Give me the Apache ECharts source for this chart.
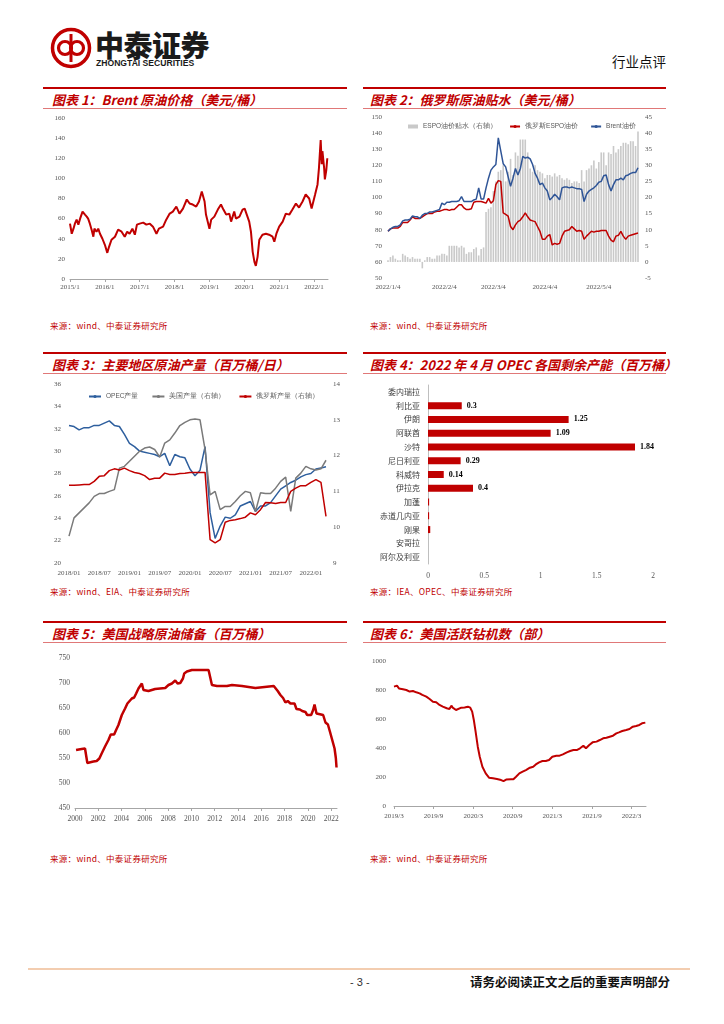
<!DOCTYPE html>
<html><head><meta charset="utf-8">
<script src="https://cdn.jsdelivr.net/npm/echarts/dist/echarts.min.js"></script>
<style>
body{margin:0;width:724px;height:1024px;background:#fff;position:relative;overflow:hidden;font-family:"Noto Sans CJK SC",sans-serif;}
.topline{position:absolute;height:2px;background:#c00000;}
.subline{position:absolute;height:1px;background:#e07878;}
.title{position:absolute;color:#c00000;font-weight:bold;font-style:italic;font-size:13px;line-height:16px;white-space:nowrap;}
.src{position:absolute;color:#c00000;font-size:8.5px;line-height:10px;white-space:nowrap;letter-spacing:0.3px;}
.chart{position:absolute;}
</style></head>
<body>
<!-- header -->
<svg style="position:absolute;left:50px;top:27px" width="42" height="42" viewBox="0 0 42 42">
  <circle cx="21" cy="21" r="18.5" fill="#fff" stroke="#c00000" stroke-width="3.5"/>
  <circle cx="15" cy="21" r="6.5" fill="none" stroke="#c00000" stroke-width="3.2"/>
  <circle cx="27" cy="21" r="6.5" fill="none" stroke="#c00000" stroke-width="3.2"/>
  <line x1="21" y1="7" x2="21" y2="35" stroke="#c00000" stroke-width="3"/>
</svg>
<div style="position:absolute;left:95px;top:28px;font-size:29px;line-height:32px;font-weight:900;color:#1a1a1a;letter-spacing:-0.5px;">中泰证券</div>
<div style="position:absolute;left:96px;top:58px;font-size:8.6px;line-height:10px;font-weight:bold;color:#1a1a1a;font-family:'Liberation Sans',Arial,sans-serif;">ZHONGTAI SECURITIES</div>
<div style="position:absolute;left:612px;top:53px;font-size:13.5px;line-height:16px;color:#111;">行业点评</div>

<!-- panel frames -->
<div class="topline" style="left:43px;top:87px;width:304px"></div>
<div class="topline" style="left:363px;top:87px;width:303px"></div>
<div class="title" style="left:52px;top:92px">图表 1：Brent 原油价格（美元/桶）</div>
<div class="title" style="left:370px;top:92px">图表 2：俄罗斯原油贴水（美元/桶）</div>
<div class="subline" style="left:43px;top:108px;width:304px"></div>
<div class="subline" style="left:363px;top:108px;width:303px"></div>
<div class="src" style="left:50px;top:320px">来源：wind、中泰证券研究所</div>
<div class="src" style="left:370px;top:320px">来源：wind、中泰证券研究所</div>

<div class="topline" style="left:43px;top:352px;width:304px"></div>
<div class="topline" style="left:363px;top:352px;width:303px"></div>
<div class="title" style="left:52px;top:357px">图表 3：主要地区原油产量（百万桶/日）</div>
<div class="title" style="left:370px;top:357px">图表 4：2022 年 4 月 OPEC 各国剩余产能（百万桶）</div>
<div class="subline" style="left:43px;top:373px;width:304px"></div>
<div class="subline" style="left:363px;top:373px;width:303px"></div>
<div class="src" style="left:50px;top:586px">来源：wind、EIA、中泰证券研究所</div>
<div class="src" style="left:370px;top:586px">来源：IEA、OPEC、中泰证券研究所</div>

<div class="topline" style="left:43px;top:621px;width:304px"></div>
<div class="topline" style="left:363px;top:621px;width:303px"></div>
<div class="title" style="left:52px;top:626px">图表 5：美国战略原油储备（百万桶）</div>
<div class="title" style="left:370px;top:626px">图表 6：美国活跃钻机数（部）</div>
<div class="subline" style="left:43px;top:642px;width:304px"></div>
<div class="subline" style="left:363px;top:642px;width:303px"></div>
<div class="src" style="left:50px;top:853px">来源：wind、中泰证券研究所</div>
<div class="src" style="left:370px;top:853px">来源：wind、中泰证券研究所</div>

<!-- charts -->
<div id="c1" class="chart" style="left:43px;top:110px;width:304px;height:190px"></div>
<div id="c2" class="chart" style="left:363px;top:110px;width:303px;height:190px"></div>
<div id="c3" class="chart" style="left:43px;top:375px;width:304px;height:208px"></div>
<div id="c4" class="chart" style="left:363px;top:375px;width:303px;height:208px"></div>
<div id="c5" class="chart" style="left:43px;top:645px;width:304px;height:200px"></div>
<div id="c6" class="chart" style="left:363px;top:645px;width:303px;height:200px"></div>

<!-- footer -->
<div style="position:absolute;left:28px;top:968px;width:662px;height:2px;background:#f3cdb0;"></div>
<div style="position:absolute;left:350px;top:975px;font-size:11px;line-height:14px;color:#333;font-family:'Liberation Sans',Arial,sans-serif;">- 3 -</div>
<div style="position:absolute;left:470px;top:974px;font-size:12.5px;line-height:16px;font-weight:bold;color:#111;">请务必阅读正文之后的重要声明部分</div>

<script>
// ---------- Chart 1: Brent ----------
const brentYears = [2015.00,2015.05,2015.10,2015.14,2015.19,2015.24,2015.29,2015.36,2015.43,2015.48,
2015.52,2015.57,2015.62,2015.67,2015.70,2015.76,2015.81,2015.86,2015.93,2016.00,
2016.07,2016.12,2016.19,2016.29,2016.38,2016.48,2016.57,2016.64,2016.71,2016.79,
2016.86,2016.92,2017.00,2017.10,2017.19,2017.29,2017.38,2017.48,2017.55,2017.67,
2017.76,2017.86,2017.95,2018.05,2018.14,2018.24,2018.35,2018.43,2018.52,2018.62,
2018.70,2018.78,2018.86,2018.90,2019.00,2019.05,2019.14,2019.24,2019.33,2019.40,
2019.48,2019.57,2019.62,2019.71,2019.76,2019.86,2019.95,2020.01,2020.07,2020.14,
2020.19,2020.24,2020.29,2020.33,2020.38,2020.43,2020.52,2020.62,2020.71,2020.81,
2020.86,2020.92,2021.00,2021.10,2021.19,2021.29,2021.38,2021.48,2021.57,2021.67,
2021.76,2021.86,2021.93,2022.03,2022.10,2022.14,2022.19,2022.22,2022.24,2022.29,
2022.31,2022.35,2022.38];
const brentPrices = [55,45,50,55,59,54,60,67,64,62,
60,55,49,42,50,47,50,45,40,34,
26,32,39,42,49,47,42,47,45,50,
44,54,55,56,54,55,52,45,50,52,
59,65,67,72,65,70,79,75,74,72,
77,87,77,64,50,59,62,69,74,69,
64,65,57,67,60,62,69,70,64,57,
47,27,17,13,22,39,44,45,44,42,
37,45,52,57,65,64,69,75,71,77,
84,80,70,84,94,110,138,114,127,110,
99,108,120];

// ---------- Chart 2: ESPO ----------
const espoLabelDates = ['2022/1/4','2022/2/4','2022/3/4','2022/4/4','2022/5/4'];
const espoDates = (function(){const out=[];const d=new Date(Date.UTC(2022,0,4));const end=Date.UTC(2022,4,26);
  while(d.getTime()<=end){const w=d.getUTCDay();if(w!==0&&w!==6)out.push(d.getUTCFullYear()+'/'+(d.getUTCMonth()+1)+'/'+d.getUTCDate());d.setUTCDate(d.getUTCDate()+1);}return out;})();
const espoBrent = [79,80.5,81.5,82,82,83,85.5,86,86,86.5,
88.5,88,88,87,89,90,90,91,91,91.5,
92,92.5,96.5,95.5,97,97,97.5,97.5,97.5,98,
100.5,97.5,97.5,97.5,97.5,98.5,99,106,99,99,
106,112,117,119,120.5,137,129,121,119,113,
107,112,118,114,118,125.5,124.5,125,124,120.5,
115,112,108,109,106,104,98.5,100,102,100.5,
98.5,106,106.5,106.5,106,106.5,106,105.5,105.5,105,
97.5,102,104,105,106,107.5,109.5,110,113.5,114,
108,104,108,111,111,112,111,113.5,114,115,
115.5,115.5,118.5];
const espoRussia = [79,80.5,81,81,81,82,84.5,84.5,84.5,86,
88,87,87,87,88,89,90,90,90,91,
91.5,91.5,92,92.5,92.5,92,92.5,92.5,94,95.5,
95.5,93.5,92.5,92.5,93,97,97.5,97.5,97.5,97,
96.5,99.5,96.5,98,108,110.5,110,90.5,89.5,88.5,
82,80,83,85,86,88,90.5,88,86,85.5,
85,82,79,74,74,76,77,70.5,71.5,71,
71.5,76,79,79.5,80,82,80.5,79,79.5,79,
74,76,77.5,79,78.5,79,79,79.5,79.5,79.5,
76,73.5,72.5,76,76.5,79,76,74,76,76.5,
77,77.5,78];
const espoDiscount = [0.5,1.5,2,1,0.5,0.5,2.5,2,1.5,1,
1.5,1,1,1,-2,0.5,1.5,1.5,1,1,
2,2,2.5,2.5,2,5,5,5,5,4.5,
5,4.5,2.5,3,3,4,4.5,2,4,4.5,
15.5,16.5,17,22,25,28,28.5,30,25,28,
32,27,34,33,38,38,38,34,29,28,
30,28.5,28,27.5,26,27,27,26.5,27.5,26.5,
27,26,25.5,26,25.5,24.5,25,25,24.5,28.5,
25,28.5,29,30,31.5,29,31,34,34,30,
34,33.5,36,34,35,36,37,37,36.5,37.5,
37.5,36,40.5];

// ---------- Chart 3: production ----------
const prodMonths = (function(){const o=[];for(let y=2018;y<=2022;y++){for(let m=1;m<=12;m++){if(y===2022&&m>4)break;o.push(y+'/'+(m<10?'0'+m:m));}}return o;})();
const opecProd = [32.3,32.2,31.9,32.1,32.1,32.3,32.3,32.5,32.7,32.3,
32.2,31.5,30.7,30.4,30.0,29.9,29.8,29.7,29.5,29.8,
28.7,29.7,29.5,29.4,28.4,27.8,28.3,30.4,24.5,22.2,
23.3,24.1,24.0,24.3,25.1,25.3,25.5,24.6,25.1,25.1,
25.4,26.0,26.6,26.9,27.2,27.4,27.7,27.9,28.0,28.4,
28.5,28.6];
const usProd = [9.75,10.26,10.4,10.54,10.68,10.86,10.94,10.94,11.0,11.05,
11.65,11.7,11.84,11.98,12.12,12.21,12.24,12.17,11.96,12.35,
12.44,12.63,12.84,12.93,13.0,13.02,13.0,12.17,10.9,11.0,
10.49,10.58,10.58,10.72,10.88,11.0,10.96,10.44,10.96,10.94,
10.94,11.09,11.28,11.4,10.44,11.37,11.51,11.7,11.63,11.6,
11.63,11.87];
const ruProd = [11.17,11.17,11.18,11.19,11.19,11.28,11.42,11.44,11.58,11.63,
11.6,11.65,11.58,11.53,11.5,11.44,11.33,11.37,11.37,11.51,
11.47,11.47,11.5,11.51,11.53,11.53,11.53,11.53,9.65,9.56,
9.65,10.14,10.19,10.21,10.24,10.28,10.4,10.35,10.49,10.69,
10.68,10.66,10.69,10.69,11.0,11.09,11.16,11.16,11.25,11.33,
11.25,10.3];

// ---------- Chart 4: OPEC spare capacity ----------
const opecCountries = ['委内瑞拉','利比亚','伊朗','阿联酋','沙特','尼日利亚','科威特','伊拉克','加蓬','赤道几内亚','刚果','安哥拉','阿尔及利亚'];
const spareCapacity = [0,0.3,1.25,1.09,1.84,0.29,0.14,0.4,0.01,0.01,0.02,0,0];

// ---------- Chart 5: SPR ----------
const sprYears = [2000.09,2000.20,2000.57,2000.86,2000.95,2001.06,2001.23,2001.58,2001.86,2002.09,
2002.29,2002.58,2002.87,2003.07,2003.36,2003.53,2003.73,2004.02,2004.30,2004.50,
2004.88,2005.08,2005.25,2005.45,2005.74,2005.88,2006.02,2006.31,2006.45,2006.88,
2007.31,2007.75,2008.03,2008.32,2008.61,2008.81,2009.04,2009.27,2009.38,2009.61,
2010.04,2010.76,2011.47,2011.62,2011.76,2012.19,2013.05,2013.48,2014.34,2014.49,
2015.49,2015.63,2017.07,2017.21,2017.41,2017.64,2017.87,2018.07,2018.27,2018.50,
2018.85,2019.02,2019.31,2019.51,2019.79,2019.94,2020.28,2020.45,2020.57,2020.74,
2020.94,2021.31,2021.51,2021.72,2021.89,2022.09,2022.29,2022.40,2022.46];
const sprLevels = [566,569,568,569,566,540,543,543,544,549,
559,573,586,597,597,606,616,636,649,659,
669,671,679,689,699,686,683,684,688,688,
689,690,696,699,705,699,700,709,719,723,
726,726,726,723,696,694,694,696,694,690,
690,694,694,692,684,676,670,661,664,659,
659,648,647,644,642,636,636,646,657,639,
638,636,621,617,603,586,569,550,531];

// ---------- Chart 6: rig count (months since 2019/3) ----------
const rigMonths = [0,0.25,0.45,0.75,1.36,1.87,2.37,2.87,3.38,3.88,
4.29,4.5,4.9,5.4,5.9,6.4,6.9,7.4,8.0,8.4,
8.7,8.9,9.4,9.7,10.2,10.7,11.2,11.56,11.85,12.1,
12.37,12.5,12.7,13.0,13.4,13.9,14.4,15.0,15.6,16.24,
16.6,17.0,17.75,18.1,18.5,19.0,19.5,20.0,20.6,21.1,
21.5,22.0,22.5,23.0,23.5,24.0,24.6,25.1,25.6,26.2,
26.7,27.2,27.7,28.2,28.7,29.1,29.6,30.1,30.7,31.2,
31.7,32.2,32.7,33.2,33.7,34.1,34.6,35.2,35.7,36.2,
36.7,37.2,37.6,37.8,38.1];
const rigCounts = [823,834,830,811,805,800,789,793,784,777,
766,770,754,738,719,715,697,685,674,669,
692,678,662,674,678,680,685,678,651,593,
513,501,409,340,271,225,195,191,186,179,
172,182,184,184,202,225,237,248,264,271,
287,301,310,310,317,340,347,347,356,370,
379,386,386,398,416,398,421,439,444,455,
467,471,478,485,501,508,517,524,531,547,
552,559,570,582,575];

// ---------- common styles ----------
const RED='#c00000', BLUE='#2f5597';
const serif='Liberation Serif, Times New Roman, serif';
const lab = (size)=>({fontSize:size,color:'#555',fontFamily:serif});
const noLine={show:false};
const plain = v=>String(Math.round(v*100)/100);

function mk(id,opt){const c=echarts.init(document.getElementById(id),null,{renderer:'canvas'});opt.animation=false;c.setOption(opt);}

mk('c1',{
  grid:{left:27,top:8,width:258,height:161},
  xAxis:{type:'value',min:2015,max:2022.4,interval:1,
    axisLine:{lineStyle:{color:'#a6a6a6'}},axisTick:{show:true,length:3,lineStyle:{color:'#a6a6a6'}},splitLine:noLine,
    axisLabel:Object.assign(lab(7),{formatter:v=>Math.round(v)+'/1',showMaxLabel:false,margin:5})},
  yAxis:{type:'value',min:0,max:160,interval:20,axisLine:noLine,axisTick:noLine,splitLine:noLine,axisLabel:Object.assign(lab(7),{margin:5,formatter:plain})},
  series:[{type:'line',data:brentYears.map((x,i)=>[x,brentPrices[i]]),symbol:'none',lineStyle:{color:RED,width:2}}]
});

mk('c2',{
  grid:{left:25,top:7,width:250,height:161},
  legend:{top:8,left:40,itemWidth:10,itemHeight:4,itemGap:12,textStyle:{fontSize:6.5,color:'#595959'},
    data:[{name:'ESPO油价贴水（右轴）',icon:'rect'},{name:'俄罗斯ESPO油价'},{name:'Brent油价'}]},
  xAxis:{type:'category',data:espoDates,boundaryGap:false,axisLine:noLine,axisTick:noLine,
    axisLabel:Object.assign(lab(7),{interval:(i,v)=>espoLabelDates.indexOf(v)>=0,margin:6})},
  yAxis:[
    {type:'value',min:50,max:150,interval:10,axisLine:noLine,axisTick:noLine,splitLine:noLine,axisLabel:Object.assign(lab(7),{margin:6,formatter:plain})},
    {type:'value',min:-5,max:45,interval:5,axisLine:noLine,axisTick:noLine,splitLine:noLine,axisLabel:Object.assign(lab(7),{margin:7,formatter:plain})}
  ],
  series:[
    {name:'ESPO油价贴水（右轴）',type:'bar',yAxisIndex:1,data:espoDiscount,barWidth:1.6,itemStyle:{color:'#c9c9c9'}},
    {name:'俄罗斯ESPO油价',type:'line',data:espoRussia,symbol:'none',lineStyle:{color:RED,width:1.5},itemStyle:{color:RED}},
    {name:'Brent油价',type:'line',data:espoBrent,symbol:'none',lineStyle:{color:BLUE,width:1.5},itemStyle:{color:BLUE}}
  ]
});

mk('c3',{
  grid:{left:26,top:9,width:257,height:179},
  legend:{top:13,left:40,itemWidth:12,itemHeight:4,itemGap:13,textStyle:{fontSize:6.5,color:'#595959'},
    data:['OPEC产量','美国产量（右轴）','俄罗斯产量（右轴）']},
  xAxis:{type:'category',data:prodMonths,boundaryGap:false,axisLine:noLine,axisTick:noLine,
    axisLabel:Object.assign(lab(7),{interval:5,margin:7})},
  yAxis:[
    {type:'value',min:20,max:36,interval:2,axisLine:noLine,axisTick:noLine,splitLine:noLine,axisLabel:Object.assign(lab(7),{margin:8,formatter:plain})},
    {type:'value',min:9,max:14,interval:1,axisLine:noLine,axisTick:noLine,splitLine:noLine,axisLabel:Object.assign(lab(7),{margin:7,formatter:plain})}
  ],
  series:[
    {name:'OPEC产量',type:'line',data:opecProd,symbol:'none',lineStyle:{color:'#2e5f9e',width:1.5},itemStyle:{color:'#2e5f9e'}},
    {name:'美国产量（右轴）',type:'line',yAxisIndex:1,data:usProd,symbol:'none',lineStyle:{color:'#7a7a7a',width:1.5},itemStyle:{color:'#7a7a7a'}},
    {name:'俄罗斯产量（右轴）',type:'line',yAxisIndex:1,data:ruProd,symbol:'none',lineStyle:{color:RED,width:1.5},itemStyle:{color:RED}}
  ]
});

mk('c4',{
  grid:{left:65,top:10,width:225,height:179},
  xAxis:{type:'value',min:0,max:2,interval:0.5,axisLine:noLine,axisTick:noLine,splitLine:noLine,axisLabel:Object.assign(lab(7.5),{margin:8,formatter:plain})},
  yAxis:{type:'category',data:opecCountries,inverse:true,axisLine:{show:true,lineStyle:{color:'#bfbfbf'}},axisTick:noLine,
    axisLabel:{fontSize:8,color:'#404040',fontFamily:'Noto Sans CJK SC',margin:8}},
  series:[{type:'bar',data:spareCapacity,barWidth:7,itemStyle:{color:RED},
    label:{show:true,position:'right',distance:5,fontSize:8,fontWeight:'bold',color:'#000',fontFamily:serif,
      formatter:p=>p.value>=0.1?String(p.value):''}}]
});

mk('c5',{
  grid:{left:32,top:13,width:262,height:150},
  xAxis:{type:'value',min:2000,max:2022.5,interval:2,
    axisLine:{lineStyle:{color:'#a6a6a6'}},axisTick:{show:true,length:3,lineStyle:{color:'#a6a6a6'}},splitLine:noLine,
    axisLabel:Object.assign(lab(7.5),{showMaxLabel:false,margin:7,formatter:v=>String(Math.round(v))})},
  yAxis:{type:'value',min:450,max:750,interval:50,axisLine:noLine,axisTick:noLine,splitLine:noLine,axisLabel:Object.assign(lab(7.5),{margin:5,formatter:plain})},
  series:[{type:'line',data:sprYears.map((x,i)=>[x,sprLevels[i]]),symbol:'none',lineStyle:{color:RED,width:2.5}}]
});

mk('c6',{
  grid:{left:31,top:16,width:252,height:145},
  xAxis:{type:'value',min:0,max:38.2,interval:6,
    axisLine:{lineStyle:{color:'#a6a6a6'}},axisTick:{show:true,length:3,lineStyle:{color:'#a6a6a6'}},splitLine:noLine,
    axisLabel:Object.assign(lab(7),{showMaxLabel:false,margin:7,formatter:v=>{const t=2+Math.round(v);return (2019+Math.floor(t/12))+'/'+(t%12+1);}})},
  yAxis:{type:'value',min:0,max:1000,interval:200,axisLine:noLine,axisTick:noLine,splitLine:noLine,axisLabel:Object.assign(lab(7),{margin:8,formatter:plain})},
  series:[{type:'line',data:rigMonths.map((x,i)=>[x,rigCounts[i]]),symbol:'none',lineStyle:{color:RED,width:2}}]
});
</script>
</body></html>
